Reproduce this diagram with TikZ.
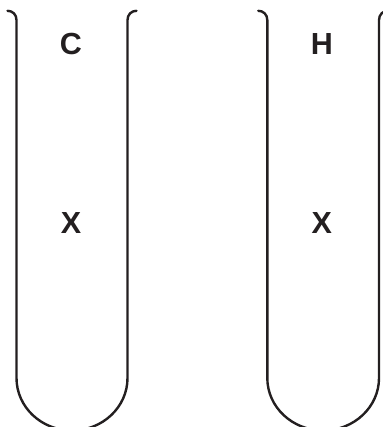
\documentclass[tikz,border=0pt]{standalone}
\usepackage{fontspec}
\setmainfont{Liberation Sans}
\usepackage{xcolor}
\usetikzlibrary{positioning}
\definecolor{inkblack}{HTML}{231F20}
\tikzset{
  tubeline/.style={draw=inkblack, line width=2.4pt, line cap=round},
  tubetext/.style={text=inkblack, font=\fontsize{30.5}{30.5}\selectfont\bfseries, inner sep=0pt, text width=30pt, text height=21pt, text depth=0pt, align=center},
}
\begin{document}
\begin{tikzpicture}[x=1pt, y=-1pt, node distance=158pt and 220.5pt]
  \useasboundingbox (0,0) rectangle (382,427);
  \node[tubetext] (itemC) at (71,44) {C};
    \node[tubetext, below=of itemC] (itemX) {X};
  \node[tubetext, right=of itemC] (itemH) {H};
    \node[tubetext, below=of itemH] (itemY) {X};

  % left tube
  \draw[tubeline] (7.5,10.8) .. controls (12.5,10.8) and (16.5,14.5) .. (16.5,20)
    -- (16.5,378) arc[start angle=180, end angle=0, x radius=55.5, y radius=52.5]
    -- (127.5,20) .. controls (127.5,14.5) and (131.5,10.8) .. (136.5,10.8);
  % right tube
  \draw[tubeline] (258.3,10.8) .. controls (263.3,10.8) and (267.3,14.5) .. (267.3,20)
    -- (267.3,378) arc[start angle=180, end angle=0, x radius=55.85, y radius=52.5]
    -- (379,20) .. controls (379,14.5) and (383,10.8) .. (388,10.8);
\end{tikzpicture}
\end{document}
